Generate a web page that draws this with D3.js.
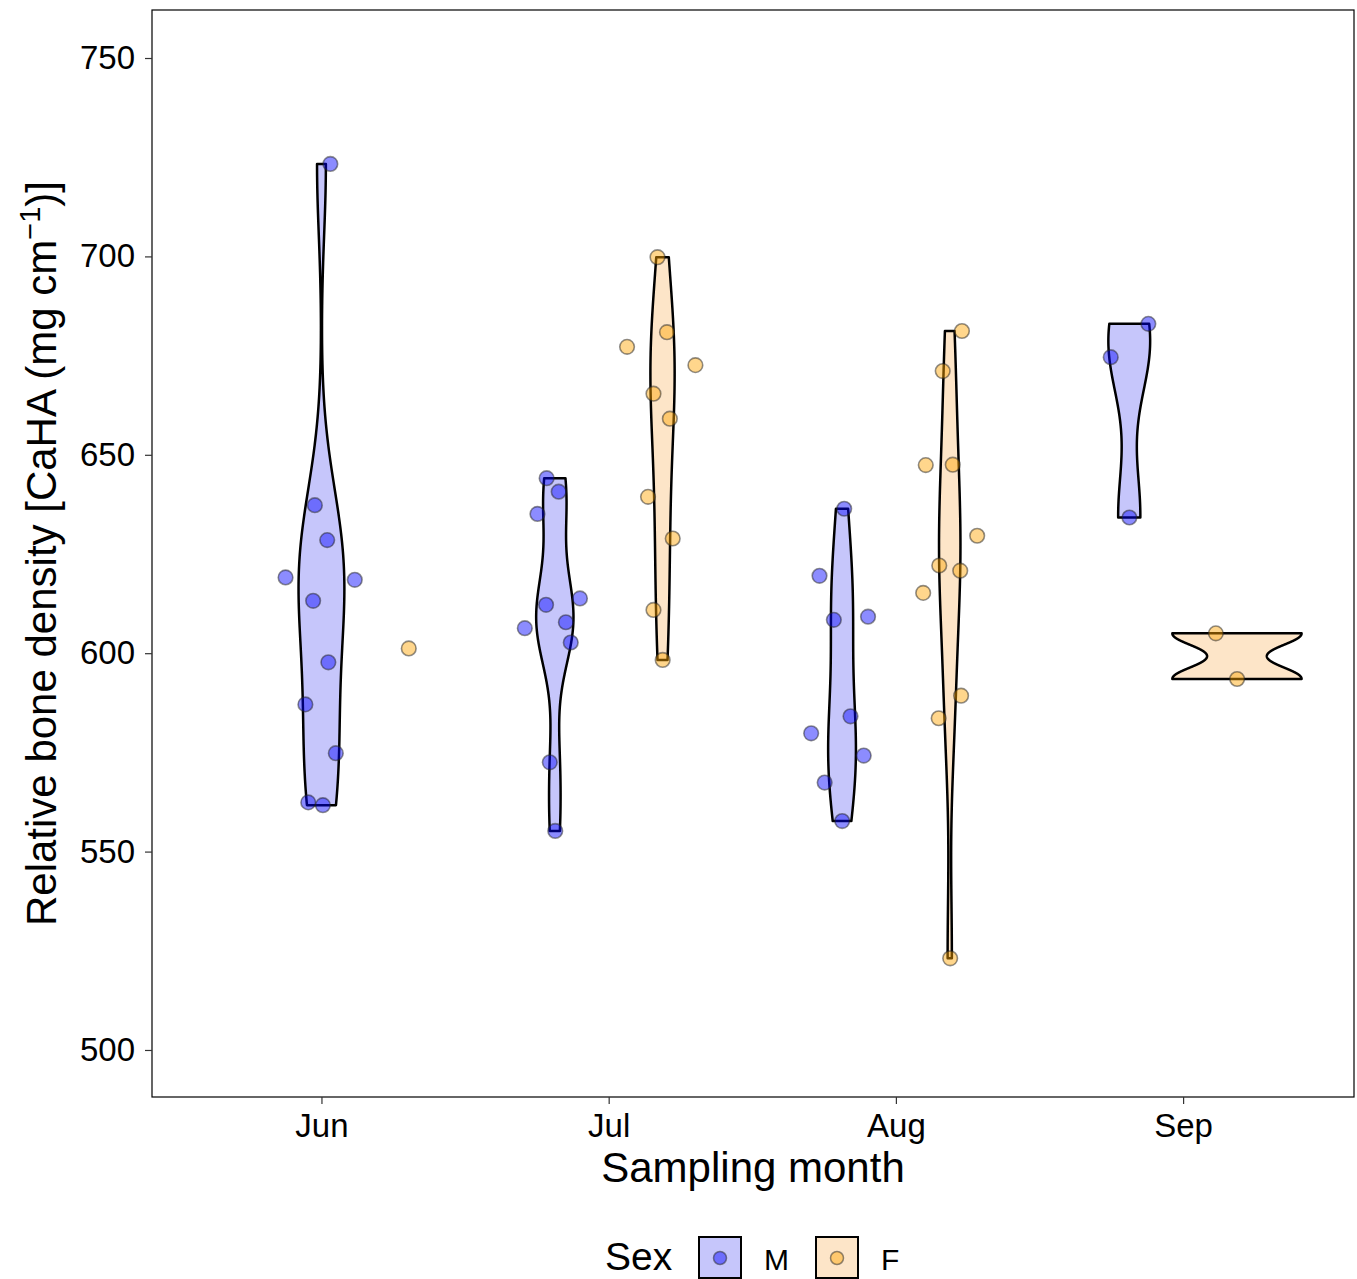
<!DOCTYPE html>
<html>
<head>
<meta charset="utf-8">
<script src="https://cdn.jsdelivr.net/npm/d3@7"></script>
<style>
  body { margin: 0; background: #fff; }
  text { font-family: "Liberation Sans", Arial, sans-serif; }
</style>
</head>
<body>
<div id="chart"></div>
<script>
// Categories
const months = ["Jun", "Jul", "Aug", "Sep"];
const sexes = ["M", "F"];
const yTicks = [500, 550, 600, 650, 700, 750];

// Bone density values per month / sex, with the horizontal jitter (in month units) of each point
const junM = [723.3, 637.3, 628.5, 619.1, 618.5, 613.2, 597.7, 587.1, 574.8, 562.4, 561.7];
const junMJit = [0.031, -0.023, 0.020, -0.125, 0.116, -0.029, 0.024, -0.056, 0.050, -0.046, 0.005];
const junF = [601.2];
const junFJit = [0.304];

const julM = [644.1, 640.7, 635.1, 613.8, 612.2, 606.3, 607.8, 602.7, 572.5, 555.2];
const julMJit = [-0.216, -0.174, -0.248, -0.100, -0.218, -0.292, -0.149, -0.132, -0.205, -0.186];
const julF = [699.8, 680.9, 677.2, 672.6, 665.4, 659.1, 639.4, 628.9, 610.9, 598.3];
const julFJit = [0.170, 0.203, 0.064, 0.302, 0.156, 0.213, 0.137, 0.223, 0.156, 0.188];

const augM = [636.4, 619.5, 608.4, 609.2, 584.1, 579.8, 574.2, 567.4, 557.7];
const augMJit = [-0.180, -0.266, -0.216, -0.097, -0.158, -0.295, -0.112, -0.248, -0.187];
const augF = [681.2, 671.1, 647.4, 647.5, 629.6, 622.1, 620.8, 615.2, 589.3, 583.6, 523.1];
const augFJit = [0.230, 0.163, 0.104, 0.198, 0.283, 0.151, 0.224, 0.095, 0.227, 0.149, 0.189];

const sepM = [683.0, 674.6, 634.2];
const sepMJit = [-0.121, -0.252, -0.187];
const sepF = [605.0, 593.5];
const sepFJit = [0.114, 0.188];

// group table built from the arrays above
const groups = [
  { month: 1, sex: "M", values: junM, jit: junMJit },
  { month: 1, sex: "F", values: junF, jit: junFJit },
  { month: 2, sex: "M", values: julM, jit: julMJit },
  { month: 2, sex: "F", values: julF, jit: julFJit },
  { month: 3, sex: "M", values: augM, jit: augMJit },
  { month: 3, sex: "F", values: augF, jit: augFJit },
  { month: 4, sex: "M", values: sepM, jit: sepMJit },
  { month: 4, sex: "F", values: sepF, jit: sepFJit }
];

const fills = { M: "#c6c6fb", F: "#fde5c8" };
const pointFill = { M: "#0000ff", F: "#ffa500" };

// Chart size
const W = 1357, H = 1279;
const margin = { top: 10, right: 3, bottom: 182, left: 152 };
const width = W - margin.left - margin.right;
const height = H - margin.top - margin.bottom;

const svg = d3.select("#chart")
  .append("svg")
  .attr("width", W)
  .attr("height", H);

const g = svg.append("g")
  .attr("transform", "translate(" + margin.left + "," + margin.top + ")");

const x = d3.scaleLinear()
  .domain([0.41, 4.595])
  .range([0, width]);

const y = d3.scaleLinear()
  .domain([488.15, 762.1])
  .range([height, 0]);

// ---------- violins (gaussian kde, bw.nrd0, trimmed, scale = "area") ----------
function bwNrd0(v) {
  const s = v.slice().sort(d3.ascending);
  const sd = d3.deviation(s);
  const iqr = d3.quantile(s, 0.75) - d3.quantile(s, 0.25);
  let lo = Math.min(sd, iqr / 1.34);
  if (!lo) lo = sd || Math.abs(s[0]) || 1;
  return 0.9 * lo * Math.pow(s.length, -0.2);
}

function kde(v) {
  const bw = bwNrd0(v);
  const lo = d3.min(v), hi = d3.max(v);
  const n = 512;
  const out = [];
  for (let i = 0; i < n; i++) {
    const t = lo + (hi - lo) * i / (n - 1);
    let s = 0;
    v.forEach(d => {
      const z = (t - d) / bw;
      s += Math.exp(-0.5 * z * z);
    });
    out.push({ y: t, d: s / (v.length * bw * Math.sqrt(2 * Math.PI)) });
  }
  return out;
}

const violins = groups.filter(d => d.values.length >= 2);
violins.forEach(d => { d.dens = kde(d.values); });
const maxDens = d3.max(violins, d => d3.max(d.dens, e => e.d));

// dodge: 0.9 wide element, dodge width 0.75
violins.forEach(d => {
  const nAt = violins.filter(e => e.month === d.month).length;
  if (nAt === 1) {
    d.center = d.month;
    d.width = 0.9;
  } else {
    d.center = d.month + (d.sex === "M" ? -0.1875 : 0.1875);
    d.width = 0.45;
  }
});

g.selectAll("path.violin")
  .data(violins)
  .enter()
  .append("path")
  .attr("class", "violin")
  .attr("d", d => {
    const pts = d.dens.map(e => [x(d.center - e.d / maxDens * d.width / 2), y(e.y)]);
    const back = d.dens.slice().reverse().map(e => [x(d.center + e.d / maxDens * d.width / 2), y(e.y)]);
    return d3.line()(pts.concat(back)) + "Z";
  })
  .attr("fill", d => fills[d.sex])
  .attr("stroke", "#000")
  .attr("stroke-width", 2.5)
  .attr("stroke-linejoin", "round");

// ---------- points ----------
const points = [];
groups.forEach(grp => {
  grp.values.forEach((v, i) => points.push({ sex: grp.sex, xpos: grp.month + grp.jit[i], value: v }));
});

g.selectAll("circle.pt")
  .data(points)
  .enter()
  .append("circle")
  .attr("class", "pt")
  .attr("cx", d => x(d.xpos))
  .attr("cy", d => y(d.value))
  .attr("r", 7.3)
  .attr("fill", d => pointFill[d.sex])
  .attr("fill-opacity", 0.45)
  .attr("stroke", "#222")
  .attr("stroke-opacity", 0.5)
  .attr("stroke-width", 1.6);

// ---------- panel border + axes ----------
g.append("rect")
  .attr("width", width)
  .attr("height", height)
  .attr("fill", "none")
  .attr("stroke", "#000")
  .attr("stroke-width", 1.2);

const xAxis = g.append("g")
  .attr("transform", "translate(0," + height + ")")
  .call(d3.axisBottom(x).tickValues([1, 2, 3, 4]).tickFormat(d => months[d - 1]).tickSize(7).tickPadding(10));
xAxis.select(".domain").remove();
xAxis.selectAll("line").attr("stroke", "#333").attr("stroke-width", 1.2);
xAxis.selectAll("text")
  .attr("font-size", "33px")
  .attr("fill", "#000")
  .attr("font-family", "Liberation Sans, Arial, sans-serif");

const yAxis = g.append("g")
  .call(d3.axisLeft(y).tickValues(yTicks).tickSize(7).tickPadding(10));
yAxis.select(".domain").remove();
yAxis.selectAll("line").attr("stroke", "#333").attr("stroke-width", 1.2);
yAxis.selectAll("text")
  .attr("font-size", "33px")
  .attr("fill", "#000")
  .attr("font-family", "Liberation Sans, Arial, sans-serif");

// X label
svg.append("text")
  .attr("x", margin.left + width / 2)
  .attr("y", 1182)
  .attr("text-anchor", "middle")
  .attr("font-size", "42px")
  .text("Sampling month");

// Y label
const yl = svg.append("text")
  .attr("transform", "translate(56," + (margin.top + height / 2) + ") rotate(-90)")
  .attr("text-anchor", "middle")
  .attr("font-size", "42px");
yl.append("tspan").text("Relative bone density [CaHA (mg cm");
yl.append("tspan").attr("font-size", "29px").attr("dy", -16).text("\u22121");
yl.append("tspan").attr("dy", 16).text(")]");

// ---------- legend ----------
const legend = svg.append("g")
  .attr("transform", "translate(0,1237)");

legend.append("text")
  .attr("x", 605)
  .attr("y", 33)
  .attr("font-size", "39px")
  .text("Sex");

const keys = legend.selectAll(".key")
  .data(sexes)
  .enter()
  .append("g")
  .attr("class", "key")
  .attr("transform", (d, i) => "translate(" + (699 + i * 117) + ",0)");

keys.append("rect")
  .attr("width", 42)
  .attr("height", 41)
  .attr("fill", d => fills[d])
  .attr("stroke", "#000")
  .attr("stroke-width", 2);

keys.append("circle")
  .attr("cx", 21)
  .attr("cy", 21)
  .attr("r", 6.5)
  .attr("fill", d => pointFill[d])
  .attr("fill-opacity", 0.45)
  .attr("stroke", "#222")
  .attr("stroke-opacity", 0.5)
  .attr("stroke-width", 1.5);

keys.append("text")
  .attr("x", 65)
  .attr("y", 33)
  .attr("font-size", "30px")
  .text(d => d);
</script>
</body>
</html>
